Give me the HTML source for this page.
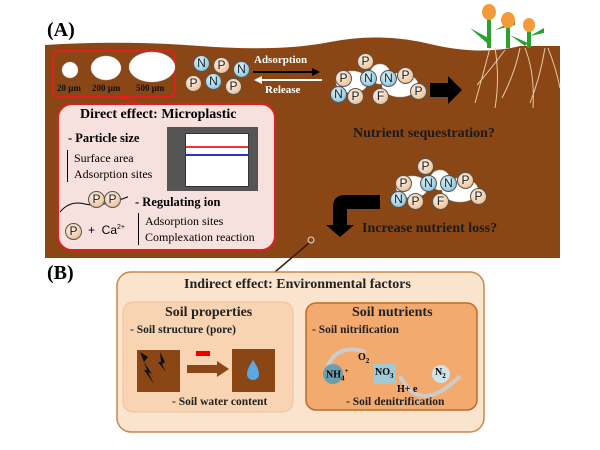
<!DOCTYPE html>
<html><head><meta charset="utf-8"><style>
body{margin:0;width:600px;height:450px;background:#fff;position:relative;overflow:hidden;font-family:"Liberation Serif",serif}
.a{position:absolute}
.b{font-weight:bold}
.ion{position:absolute;width:15px;height:15px;border-radius:50%;font:12px "Liberation Sans",sans-serif;text-align:center;line-height:15px;color:#123;border:1px solid #555}
.N{background:radial-gradient(circle at 40% 35%,#e8f6fb,#6fb6d2)}
.P{background:radial-gradient(circle at 40% 35%,#fff3e6,#eab27e)}
</style></head><body>
<svg class="a" style="left:0;top:0" width="600" height="450">
<path d="M45,45 Q120,40 200,46 T330,42 T430,44 T520,46 L560,46 L560,258 L45,258Z" fill="#8a4715"/>
<rect x="53" y="51" width="122" height="46" rx="6" fill="none" stroke="#e02020" stroke-width="2"/>
<line x1="120" y1="97" x2="140" y2="104" stroke="#e02020" stroke-width="2"/>
<rect x="58" y="104" width="217" height="146" rx="14" fill="#f7e1df" stroke="#e02020" stroke-width="2"/>
<g fill="#fff" stroke="#ccc" stroke-width=".5">
<circle cx="70" cy="70" r="8"/><ellipse cx="106" cy="68" rx="15" ry="12"/><ellipse cx="152" cy="67" rx="23" ry="15"/>
<ellipse cx="352" cy="82" rx="16" ry="11"/><ellipse cx="380" cy="74" rx="10" ry="10"/><ellipse cx="400" cy="85" rx="18" ry="12"/>
<ellipse cx="412" cy="187" rx="16" ry="11"/><ellipse cx="440" cy="180" rx="10" ry="10"/><ellipse cx="460" cy="190" rx="18" ry="12"/>
</g>
<line x1="253" y1="72" x2="316" y2="72" stroke="#000" stroke-width="2"/><path d="M320,72 l-8,-4 v8z" fill="#000"/>
<line x1="262" y1="80" x2="322" y2="80" stroke="#fff" stroke-width="2"/><path d="M254,80 l8,-4 v8z" fill="#fff"/>
<path d="M430,83 h18 v-7 l14,14 l-14,14 v-7 h-18z" fill="#000"/>
<path d="M380,195 h-35 q-12,0 -12,12 v18 h-7 l14,12 l14,-12 h-7 v-16 h33z" fill="#000"/>
<g stroke="#e8c9a4" stroke-width="1" fill="none">
<path d="M490,48 q-8,30 -15,55 M495,48 q5,30 0,60 M520,48 q-5,25 -18,50 M525,48 q10,25 8,60 M545,48 q-5,30 -15,55 M548,48 q8,20 12,40 M505,50 q-15,20 -28,35"/>
</g>
<g fill="#2ca02c"><rect x="487" y="15" width="4" height="33"/><rect x="506" y="25" width="4" height="23"/><rect x="527" y="30" width="4" height="18"/>
<path d="M470,28 l22,12 l-4,4z M495,30 l20,-10 l0,5z M510,35 l18,8 l-3,3z M530,36 l14,-8 l0,5z"/></g>
<g fill="#f59a3a"><ellipse cx="489" cy="12" rx="7" ry="8"/><ellipse cx="508" cy="20" rx="7" ry="8"/><ellipse cx="529" cy="25" rx="6" ry="7"/></g>
<circle cx="311" cy="240" r="3" fill="none" stroke="#ddd"/>
<line x1="309" y1="243" x2="275" y2="272" stroke="#3a1a05" stroke-width="1.5"/>
<rect x="117" y="272" width="367" height="160" rx="14" fill="#fbe4cd" stroke="#c8874c" stroke-width="1.5"/>
<rect x="123" y="302" width="170" height="110" rx="10" fill="#f8d4b2" stroke="#ecc19a"/>
<rect x="306" y="303" width="171" height="107" rx="10" fill="#f3aa6f" stroke="#c06a2a" stroke-width="1.5"/>
<rect x="137" y="350" width="43" height="42" fill="#8a4715"/><path d="M140,352 l8,5 l-4,5 l8,12 l-4,-2 l6,12 l-10,-14 l3,0z M160,352 l5,10 l-3,2 l4,8 l-8,-10 l3,0z" fill="#111"/>
<rect x="187" y="365" width="30" height="8" fill="#8a4715"/><path d="M217,361 l12,8 l-12,8z" fill="#8a4715"/>
<rect x="196" y="351" width="14" height="5" fill="#e00"/>
<rect x="232" y="349" width="43" height="43" fill="#8a4715"/><path d="M253,360 q-6,9 -6,14 a6,6 0 0 0 12,0 q0,-5 -6,-14z" fill="#5aa8e6"/>
<path d="M326,370 q10,-28 40,-18 M400,376 q20,40 60,0" stroke="#ccc" stroke-width="4" fill="none"/>
<circle cx="333" cy="374" r="10" fill="#6a9fb0"/><rect x="374" y="364" width="22" height="20" fill="#9fcbd9"/><circle cx="441" cy="374" r="9" fill="#cfe3ea"/>
</svg>
<div class="a b" style="left:47px;top:19px;font-size:20px">(A)</div>
<div class="a b" style="left:47px;top:262px;font-size:20px">(B)</div>
<div class="a b" style="left:57px;top:83px;font-size:9px;color:#111">20 μm</div>
<div class="a b" style="left:92px;top:83px;font-size:9px;color:#111">200 μm</div>
<div class="a b" style="left:136px;top:83px;font-size:9px;color:#111">500 μm</div>
<div class="ion N" style="left:193px;top:55px">N</div><div class="ion P" style="left:213px;top:57px">P</div><div class="ion N" style="left:233px;top:61px">N</div>
<div class="ion P" style="left:185px;top:75px">P</div><div class="ion N" style="left:205px;top:73px">N</div><div class="ion P" style="left:225px;top:78px">P</div>
<div class="a b" style="left:254px;top:54px;font-size:11px;color:#fff">Adsorption</div>
<div class="a b" style="left:265px;top:84px;font-size:11px;color:#fff">Release</div>
<div class="ion P" style="left:335px;top:70px">P</div><div class="ion N" style="left:330px;top:86px">N</div><div class="ion P" style="left:347px;top:88px">P</div><div class="ion P" style="left:357px;top:53px">P</div><div class="ion N" style="left:360px;top:70px">N</div><div class="ion N" style="left:380px;top:70px">N</div><div class="ion P" style="left:397px;top:67px">P</div><div class="ion P" style="left:372px;top:88px">F</div><div class="ion P" style="left:410px;top:83px">P</div>
<div class="ion P" style="left:395px;top:175px">P</div><div class="ion N" style="left:390px;top:191px">N</div><div class="ion P" style="left:407px;top:193px">P</div><div class="ion P" style="left:417px;top:158px">P</div><div class="ion N" style="left:420px;top:175px">N</div><div class="ion N" style="left:440px;top:175px">N</div><div class="ion P" style="left:457px;top:172px">P</div><div class="ion P" style="left:432px;top:193px">F</div><div class="ion P" style="left:470px;top:188px">P</div>
<div class="a b" style="left:353px;top:126px;font-size:14px;color:#1a1a1a">Nutrient sequestration?</div>
<div class="a b" style="left:362px;top:221px;font-size:14px;color:#1a1a1a">Increase nutrient loss?</div>
<div class="a b" style="left:80px;top:107px;font-size:14px">Direct effect: Microplastic</div>
<div class="a b" style="left:68px;top:131px;font-size:12.5px">- Particle size</div>
<div class="a" style="left:67px;top:150px;font-size:12px;line-height:16px;border-left:1px solid #000;padding-left:6px">Surface area<br>Adsorption sites</div>
<div class="a" style="left:167px;top:127px;width:91px;height:64px;background:#555"><div style="margin:6px 0 0 18px;width:62px;height:52px;background:#fff;border:1px solid #333;background-image:linear-gradient(#e33 0 0),linear-gradient(#33c 0 0);background-size:62px 2px;background-repeat:repeat-x;background-position:0 12px,0 20px"></div></div>
<svg class="a" style="left:58px;top:190px" width="70" height="25"><path d="M2,22 q10,-12 25,-8 t45,-8" stroke="#000" fill="none"/></svg>
<div class="ion P" style="left:88px;top:191px">P</div><div class="ion P" style="left:104px;top:191px">P</div>
<div class="a b" style="left:135px;top:195px;font-size:12.5px">- Regulating ion</div>
<div class="ion P" style="left:65px;top:223px">P</div>
<div class="a" style="left:88px;top:223px;font-size:12px;font-family:'Liberation Sans',sans-serif">+ &nbsp;Ca<sup style="font-size:7px">2+</sup></div>
<div class="a" style="left:138px;top:213px;font-size:12px;line-height:16px;border-left:1px solid #000;padding-left:6px">Adsorption sites<br>Complexation reaction</div>
<div class="a b" style="left:184px;top:277px;font-size:14px;color:#222">Indirect effect: Environmental factors</div>
<div class="a b" style="left:165px;top:305px;font-size:14px;color:#222">Soil properties</div>
<div class="a b" style="left:130px;top:324px;font-size:11.5px;color:#222">- Soil structure (pore)</div>
<div class="a b" style="left:172px;top:396px;font-size:11.5px;color:#222">- Soil water content</div>
<div class="a b" style="left:352px;top:305px;font-size:14px;color:#222">Soil nutrients</div>
<div class="a b" style="left:312px;top:324px;font-size:11.5px;color:#222">- Soil nitrification</div>
<div class="a b" style="left:358px;top:352px;font-size:10px">O<sub style="font-size:7px">2</sub></div>
<div class="a b" style="left:326px;top:367px;font-size:10px">NH<sub style="font-size:7px">4</sub><sup style="font-size:7px">+</sup></div>
<div class="a b" style="left:375px;top:367px;font-size:10px">NO<sub style="font-size:7px">3</sub></div>
<div class="a b" style="left:435px;top:367px;font-size:10px">N<sub style="font-size:7px">2</sub></div>
<div class="a b" style="left:397px;top:384px;font-size:10px">H+ e</div>
<div class="a b" style="left:346px;top:396px;font-size:11.5px;color:#222">- Soil denitrification</div>
</body></html>
